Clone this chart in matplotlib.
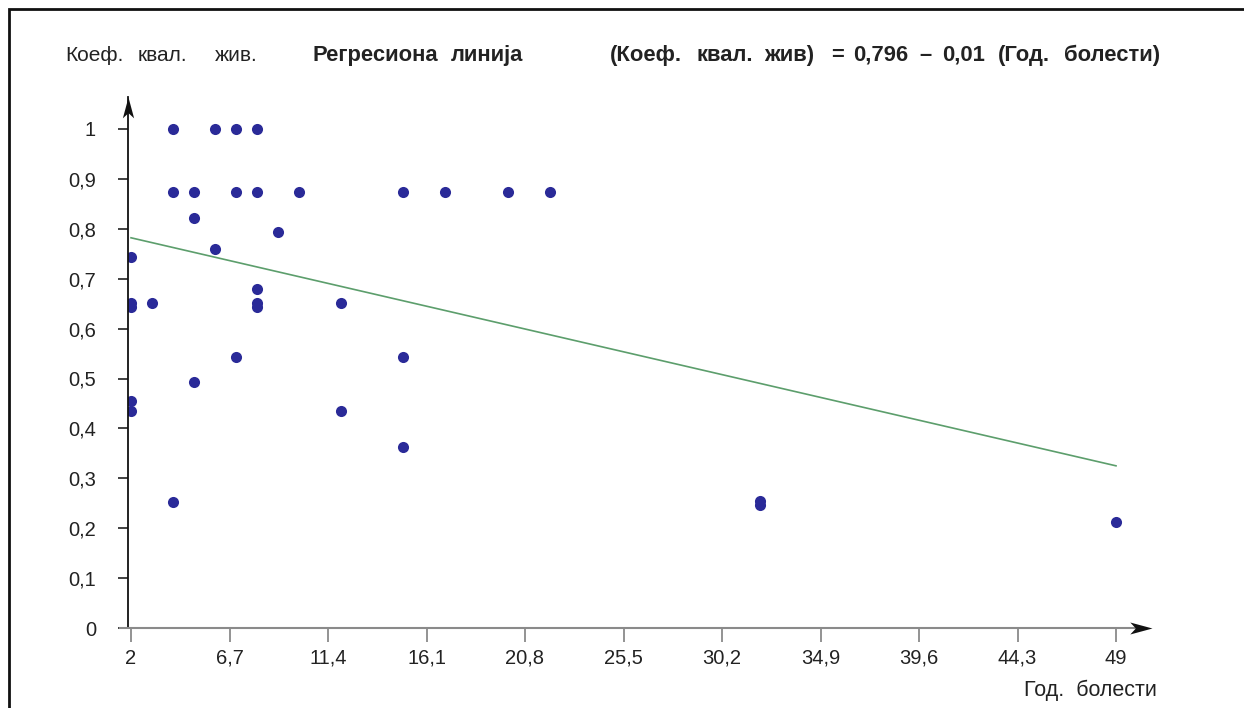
import matplotlib
matplotlib.use("Agg")
import matplotlib.pyplot as plt
from matplotlib.path import Path
from matplotlib.patches import Rectangle

plt.rcParams['font.family'] = ['Liberation Sans', 'DejaVu Sans']

# data
years = [4, 6, 7, 8,
         4, 5, 7, 8, 10, 15, 17, 20, 22,
         5, 9, 6, 2, 8, 8, 8, 2, 2, 3, 12,
         7, 15, 5, 2, 2, 12, 15, 4, 32, 32, 49]
quality = [1.0, 1.0, 1.0, 1.0,
           0.873, 0.873, 0.873, 0.873, 0.873, 0.873, 0.873, 0.873, 0.873,
           0.822, 0.794, 0.76, 0.743, 0.679, 0.651, 0.643, 0.651, 0.643, 0.651, 0.651,
           0.543, 0.543, 0.493, 0.455, 0.435, 0.435, 0.363, 0.252, 0.254, 0.246, 0.212]
line_x = [2, 49]
line_y = [0.782, 0.325]
xticks = [2, 6.7, 11.4, 16.1, 20.8, 25.5, 30.2, 34.9, 39.6, 44.3, 49]
yticks = [0, 0.1, 0.2, 0.3, 0.4, 0.5, 0.6, 0.7, 0.8, 0.9, 1]

W, H = 1244, 708
fig = plt.figure(figsize=(W / 100, H / 100), dpi=100)

# outer frame (left + top visible)
fig.patches.append(Rectangle((9 / W, -0.1), 1.2, (H - 9) / H + 0.1, transform=fig.transFigure,
                             fill=False, edgecolor='#111111', linewidth=2))

# axes placed in pixel coords
x0, x1, ytop, ybot = 128, 1152, 97, 628
ax = fig.add_axes([x0 / W, (H - ybot) / H, (x1 - x0) / W, (ybot - ytop) / H])
ppx = (1116 - 131) / 47.0
ppy = 499.0
xmin = 2 - 3 / ppx
ax.set_xlim(xmin, xmin + (x1 - x0) / ppx)
ax.set_ylim(0, (ybot - ytop) / ppy)
for s in ax.spines.values():
    s.set_visible(False)

ax.scatter(years, quality, s=64, color='#2a2a98', zorder=3, linewidths=0)
ax.plot(line_x, line_y, color='#5c9e6c', lw=1.2, zorder=2)

# axis lines with arrowheads
ax.plot([0, 0], [0, 1], transform=ax.transAxes, color='#111111', lw=1.3, clip_on=False, zorder=4)
ax.plot([-0.008, 0.99], [0, 0], transform=ax.transAxes, color='#8a8a8a', lw=1.5, clip_on=False, zorder=4)
head = Path([(0, 0), (-1, 0.27), (-0.75, 0), (-1, -0.27), (0, 0)],
            [Path.MOVETO, Path.LINETO, Path.LINETO, Path.LINETO, Path.CLOSEPOLY])
head_up = Path([(0, 0), (0.27, -1), (0, -0.75), (-0.27, -1), (0, 0)],
               [Path.MOVETO, Path.LINETO, Path.LINETO, Path.LINETO, Path.CLOSEPOLY])
ax.plot([1], [0], marker=head, markersize=32, color='#111111', transform=ax.transAxes,
        clip_on=False, zorder=5, markeredgewidth=0)
ax.plot([0], [1], marker=head_up, markersize=30, color='#111111', transform=ax.transAxes,
        clip_on=False, zorder=5, markeredgewidth=0)

ax.set_xticks(xticks)
ax.set_xticklabels([f"{t:g}".replace('.', ',') for t in xticks], fontsize=14.5, color='#222222')
ax.set_yticks(yticks)
ax.set_yticklabels([f"{t:g}".replace('.', ',') for t in yticks], fontsize=14.5, color='#222222')
ax.tick_params(axis='x', length=10, width=1.3, color='#8a8a8a', pad=5)
ax.tick_params(axis='y', length=7, width=1.3, color='#333333', pad=16)

# header texts, word by word
base = 1 - 61 / H
for word, px in [("Коеф.", 65), ("квал.", 138), ("жив.", 215)]:
    fig.text(px / W, base, word, fontsize=15, va='baseline', ha='left', color='#222222')
bold_words = [("Регресиона", 312), ("линија", 451),
              ("(Коеф.", 610), ("квал.", 697), ("жив)", 764), ("=", 831), ("0,796", 853),
              ("–", 919), ("0,01", 942), ("(Год.", 998), ("болести)", 1064)]
for word, px in bold_words:
    fig.text(px / W, base, word, fontsize=15.8, va='baseline', ha='left',
             fontweight='bold', color='#222222')
fig.text(1157 / W, 1 - 696 / H, "Год.  болести", fontsize=15.5, va='baseline', ha='right',
         color='#222222')

fig.savefig("out.png", dpi=100, facecolor='white')
